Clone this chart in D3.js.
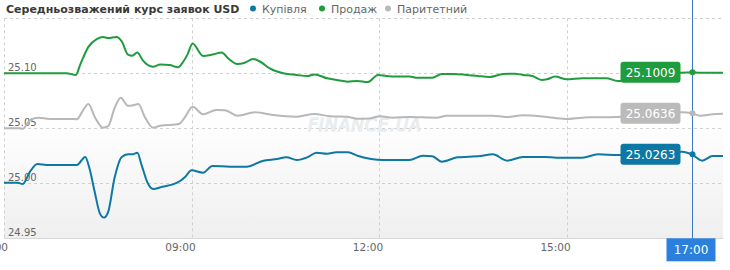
<!DOCTYPE html>
<html><head><meta charset="utf-8">
<script src="https://cdn.jsdelivr.net/npm/d3@7"></script>
<style>body{margin:0;background:#fff;}svg{display:block;font-family:"DejaVu Sans",Verdana,sans-serif;}</style>
</head><body>
<svg id="c" width="730" height="270"></svg>
<script>
const title = "Середньозважений курс заявок USD";
const seriesNames = ["Купівля", "Продаж", "Паритетний"];
const seriesColors = ["#0d78a3", "#1f9c3e", "#b8b8b8"];
const yTicks = [24.95, 25.00, 25.05, 25.10, 25.15];
const xTickLabels = ["06:00", "09:00", "12:00", "15:00"];
const currentTime = "17:00";
const currentValues = [25.0263, 25.1009, 25.0636];

const saleTimes = ["06:00","07:00","07:09","07:13","07:21","07:29","07:35","07:40","07:48","07:53","07:59","08:03","08:08","08:13","08:23","08:30","08:39","08:47","08:52","08:56","09:01","09:11","09:20","09:29","09:35","09:44","09:51","09:59","10:06","10:15","10:28","10:41","10:51","10:58","11:10","11:19","11:30","11:39","11:49","11:59","12:07","12:17","12:29","12:37","12:51","13:00","13:11","13:24","13:35","13:46","13:59","14:10","14:18","14:27","14:36","14:41","14:49","15:00","15:15","15:38","15:49","16:20","16:50","17:00","17:08","17:30"];
const saleValues = [25.1000,25.1000,25.0985,25.1075,25.1240,25.1310,25.1330,25.1320,25.1330,25.1290,25.1170,25.1160,25.1190,25.1120,25.1060,25.1080,25.1075,25.1055,25.1105,25.1170,25.1270,25.1157,25.1170,25.1190,25.1136,25.1085,25.1096,25.1130,25.1105,25.1045,25.1000,25.0985,25.0975,25.0990,25.0955,25.0940,25.0924,25.0930,25.0920,25.0985,25.0975,25.0970,25.0970,25.0960,25.0960,25.0994,25.0994,25.0985,25.0975,25.0967,25.0994,25.0997,25.0985,25.0975,25.0940,25.0945,25.0970,25.0945,25.0955,25.0955,25.0930,25.0970,25.1005,25.1009,25.1005,25.1005];

const parTimes = ["06:00","06:15","06:18","06:25","06:33","06:44","07:03","07:10","07:15","07:21","07:27","07:35","07:40","07:46","07:52","07:59","08:04","08:09","08:15","08:23","08:30","08:46","08:49","08:54","09:01","09:11","09:24","09:32","09:44","10:01","10:18","10:41","10:58","11:13","11:29","11:39","11:51","12:01","12:13","12:29","12:55","13:05","13:49","14:02","14:18","14:34","14:47","15:01","15:22","15:49","16:20","16:51","17:00","17:08","17:20","17:30"];
const parValues = [25.0500,25.0500,25.0495,25.0575,25.0596,25.0585,25.0585,25.0582,25.0650,25.0721,25.0606,25.0506,25.0520,25.0680,25.0778,25.0705,25.0710,25.0720,25.0606,25.0506,25.0524,25.0536,25.0545,25.0606,25.0696,25.0627,25.0667,25.0664,25.0615,25.0645,25.0620,25.0606,25.0630,25.0610,25.0606,25.0587,25.0590,25.0610,25.0596,25.0603,25.0596,25.0615,25.0615,25.0603,25.0618,25.0610,25.0596,25.0585,25.0600,25.0603,25.0625,25.0645,25.0636,25.0615,25.0627,25.0633];

const buyTimes = ["06:00","06:13","06:18","06:25","06:32","06:41","07:10","07:18","07:22","07:27","07:32","07:36","07:40","07:46","07:53","07:59","08:04","08:08","08:12","08:18","08:23","08:32","08:42","08:49","08:54","09:00","09:11","09:20","09:37","09:53","10:08","10:22","10:31","10:41","10:51","11:00","11:10","11:19","11:30","11:40","12:04","12:29","12:42","12:51","13:00","13:15","13:37","13:49","14:03","14:18","14:39","14:50","15:15","15:30","15:49","16:20","16:51","17:00","17:10","17:20","17:30"];
const buyValues = [25.0005,25.0005,24.9994,25.0106,25.0175,25.0167,25.0167,25.0240,25.0136,24.9924,24.9727,24.9688,24.9740,25.0045,25.0240,25.0264,25.0265,25.0278,25.0167,25.0000,24.9948,24.9969,24.9990,25.0021,25.0060,25.0118,25.0097,25.0157,25.0151,25.0151,25.0203,25.0221,25.0236,25.0212,25.0236,25.0278,25.0269,25.0282,25.0282,25.0248,25.0212,25.0212,25.0251,25.0247,25.0197,25.0236,25.0248,25.0263,25.0206,25.0240,25.0240,25.0233,25.0233,25.0263,25.0257,25.0270,25.0287,25.0263,25.0206,25.0248,25.0248];

const parse = d3.timeParse("%H:%M");
const toPts = (ts, vs) => ts.map((t, i) => ({t: parse(t), v: vs[i]}));
const series = [toPts(buyTimes, buyValues), toPts(saleTimes, saleValues), toPts(parTimes, parValues)];

const svg = d3.select("#c");
const L = 4, R = 723, T = 18.3, B = 238.3;
const x = d3.scaleTime().domain([parse("06:00"), parse("17:30")]).range([L, R]);
const y = d3.scaleLinear().domain([24.95, 25.15]).range([B, T]);

const defs = svg.append("defs");
const grad = defs.append("linearGradient").attr("id", "bg").attr("x1", 0).attr("y1", 0).attr("x2", 0).attr("y2", 1);
grad.append("stop").attr("offset", "0%").attr("stop-color", "#ffffff");
grad.append("stop").attr("offset", "45%").attr("stop-color", "#ffffff");
grad.append("stop").attr("offset", "100%").attr("stop-color", "#efefef");
defs.append("clipPath").attr("id", "clip").append("rect").attr("x", L).attr("y", 0).attr("width", R - L).attr("height", B);

svg.append("rect").attr("x", L).attr("y", T).attr("width", R - L).attr("height", B - T).attr("fill", "url(#bg)");

// horizontal grid
svg.append("g").selectAll("line").data(yTicks).join("line")
  .attr("x1", L).attr("x2", R).attr("y1", d => Math.round(y(d)) + 0.5).attr("y2", d => Math.round(y(d)) + 0.5)
  .attr("stroke", d => d === 24.95 ? "#d8d8d8" : "#d0d0d0")
  .attr("stroke-dasharray", d => d === 24.95 ? null : "3,3");

// vertical grid
svg.append("g").selectAll("line").data(xTickLabels).join("line")
  .attr("x1", d => Math.round(x(parse(d))) + 0.5).attr("x2", d => Math.round(x(parse(d))) + 0.5)
  .attr("y1", T).attr("y2", B)
  .attr("stroke", "#d0d0d0").attr("stroke-dasharray", "3,3");

// y labels
svg.append("g").selectAll("text").data(yTicks.filter(d => d < 25.15)).join("text")
  .attr("x", L + 4).attr("y", d => y(d) - 2.5)
  .attr("font-size", "10px").attr("fill", "#666").text(d => d.toFixed(2));

// x labels
svg.append("g").selectAll("text").data(xTickLabels).join("text")
  .attr("x", d => x(parse(d)) + 4).attr("y", 251)
  .attr("text-anchor", "end").attr("font-size", "10.5px").attr("fill", "#666").text(d => d);

// watermark
svg.append("text").attr("x", 365).attr("y", 131).attr("text-anchor", "middle")
  .attr("font-size", "17px").attr("font-style", "italic").attr("letter-spacing", "1px")
  .attr("fill", "#f6f8f9").attr("stroke", "#e3e8eb").attr("stroke-width", 0.9).text("FINANCE.UA");

// lines
const line = d3.line().x(d => x(d.t)).y(d => y(d.v)).curve(d3.curveMonotoneX);
const lg = svg.append("g").attr("clip-path", "url(#clip)");
[2, 0, 1].forEach(i => {
  lg.append("path").datum(series[i]).attr("d", line).attr("fill", "none")
    .attr("stroke", seriesColors[i]).attr("stroke-width", 2).attr("stroke-linejoin", "round");
});

// crosshair
const cx = Math.round(x(parse(currentTime))) + 0.5;
svg.append("line").attr("x1", cx).attr("x2", cx).attr("y1", 0).attr("y2", B).attr("stroke", "#3c78c3").attr("stroke-width", 1);

// points and badges
currentValues.forEach((v, i) => {
  svg.append("circle").attr("cx", cx).attr("cy", y(v)).attr("r", 3).attr("fill", seriesColors[i]);
  const bw = 60, bh = 21;
  svg.append("rect").attr("x", cx - 72).attr("y", y(v) - bh / 2).attr("width", bw).attr("height", bh)
    .attr("rx", 3).attr("fill", seriesColors[i] === "#b8b8b8" ? "#bbbbbb" : seriesColors[i]);
  svg.append("text").attr("x", cx - 72 + bw / 2).attr("y", y(v) + 4.5).attr("text-anchor", "middle")
    .attr("font-size", "12px").attr("fill", "#fff").text(v.toFixed(4));
});

// time badge
svg.append("rect").attr("x", cx - 26).attr("y", B).attr("width", 49).attr("height", 23).attr("fill", "#2b80de");
svg.append("text").attr("x", cx - 1.5).attr("y", B + 16).attr("text-anchor", "middle")
  .attr("font-size", "12px").attr("fill", "#fff").text(currentTime);

// title and legend
svg.append("text").attr("x", 6).attr("y", 13).attr("font-size", "11px").attr("font-weight", "bold").attr("fill", "#3a3a3a").text(title);
const legX = [253, 322, 388];
seriesNames.forEach((n, i) => {
  svg.append("circle").attr("cx", legX[i]).attr("cy", 8.5).attr("r", 3).attr("fill", seriesColors[i]);
  svg.append("text").attr("x", legX[i] + 9).attr("y", 13).attr("font-size", "11px").attr("fill", "#666").text(n);
});
</script>
</body></html>
